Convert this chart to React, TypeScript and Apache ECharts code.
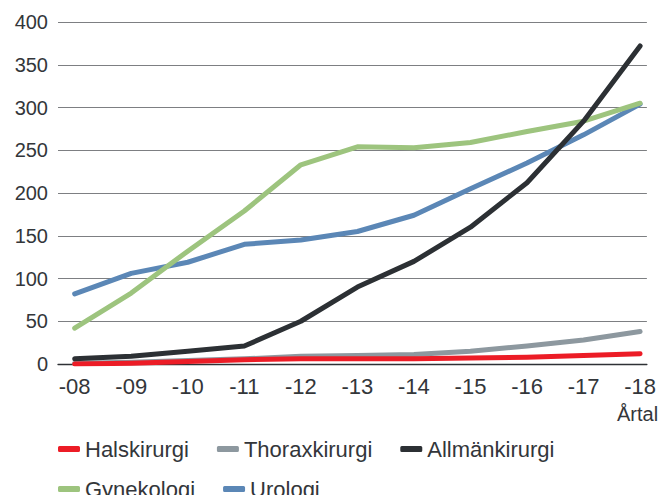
import React, { useEffect, useRef } from "react";
import * as echarts from "echarts";

const categories = ["-08", "-09", "-10", "-11", "-12", "-13", "-14", "-15", "-16", "-17", "-18"];
const halskirurgi = [0, 1, 3, 5, 6, 6, 6, 7, 8, 10, 12];
const thoraxkirurgi = [1, 2, 4, 6, 9, 10, 11, 15, 21, 28, 38];
const allmankirurgi = [6, 9, 15, 21, 50, 90, 120, 160, 212, 284, 372];
const gynekologi = [42, 83, 132, 179, 233, 254, 253, 259, 272, 284, 305];
const urologi = [82, 106, 119, 140, 145, 155, 174, 205, 235, 268, 304];
const yTicks = [0, 50, 100, 150, 200, 250, 300, 350, 400];
const xAxisTitle = "Årtal";

const FONT = '"Liberation Sans", Arial, sans-serif';
const TEXT = "#33363a";

const seriesDefs = [
  { name: "Halskirurgi", data: halskirurgi, color: "#ec1c26", z: 6 },
  { name: "Thoraxkirurgi", data: thoraxkirurgi, color: "#8d989f", z: 2 },
  { name: "Allmänkirurgi", data: allmankirurgi, color: "#2c3034", z: 5 },
  { name: "Gynekologi", data: gynekologi, color: "#9dc47e", z: 4 },
  { name: "Urologi", data: urologi, color: "#5b87b6", z: 3 },
];

export default function App() {
  const ref = useRef<HTMLDivElement>(null);
  useEffect(() => {
    if (!ref.current) return;
    const chart = echarts.init(ref.current, undefined, { renderer: "svg" });
    const legendCommon = {
      left: 53,
      icon: "roundRect",
      itemWidth: 22,
      itemHeight: 6,
      itemGap: 28,
      textStyle: { fontFamily: FONT, fontSize: 22, color: TEXT, padding: [0, 0, 0, 0] },
    };
    chart.setOption({
      animation: false,
      backgroundColor: "#ffffff",
      grid: { left: 58, right: 0, top: 22, bottom: 131, containLabel: false },
      xAxis: {
        type: "value",
        min: -0.295,
        max: 10.12,
        axisLine: { show: true, onZero: true, lineStyle: { color: "#2e3135", width: 1.3 } },
        axisTick: { show: false },
        splitLine: { show: false },
        axisLabel: {
          customValues: categories.map((_, i) => i),
          formatter: (v: number) => categories[Math.round(v)] ?? "",
          fontFamily: FONT,
          fontSize: 22,
          color: TEXT,
          margin: 11,
        },
      },
      yAxis: {
        type: "value",
        min: yTicks[0],
        max: yTicks[yTicks.length - 1],
        interval: 50,
        axisLine: { show: false },
        axisTick: { show: false },
        splitLine: { show: true, lineStyle: { color: "#7d7f82", width: 1.2 } },
        axisLabel: { fontFamily: FONT, fontSize: 20, color: TEXT, margin: 10 },
      },
      legend: [
        { ...legendCommon, top: 433, data: seriesDefs.slice(0, 3).map((s) => s.name) },
        { ...legendCommon, top: 473, data: seriesDefs.slice(3).map((s) => s.name) },
      ],
      graphic: [
        {
          type: "text",
          x: 617,
          y: 404,
          style: { text: xAxisTitle, font: `20px ${FONT}`, fill: TEXT },
        },
      ],
      series: seriesDefs.map((s) => ({
        name: s.name,
        type: "line",
        z: s.z,
        data: s.data.map((v, i) => [i, v]),
        showSymbol: false,
        symbol: "none",
        color: s.color,
        lineStyle: { color: s.color, width: 5, cap: "round", join: "round" },
      })),
    });
    return () => chart.dispose();
  }, []);
  return <div ref={ref} style={{ width: 659, height: 495, position: "absolute", left: 0, top: 0 }} />;
}
